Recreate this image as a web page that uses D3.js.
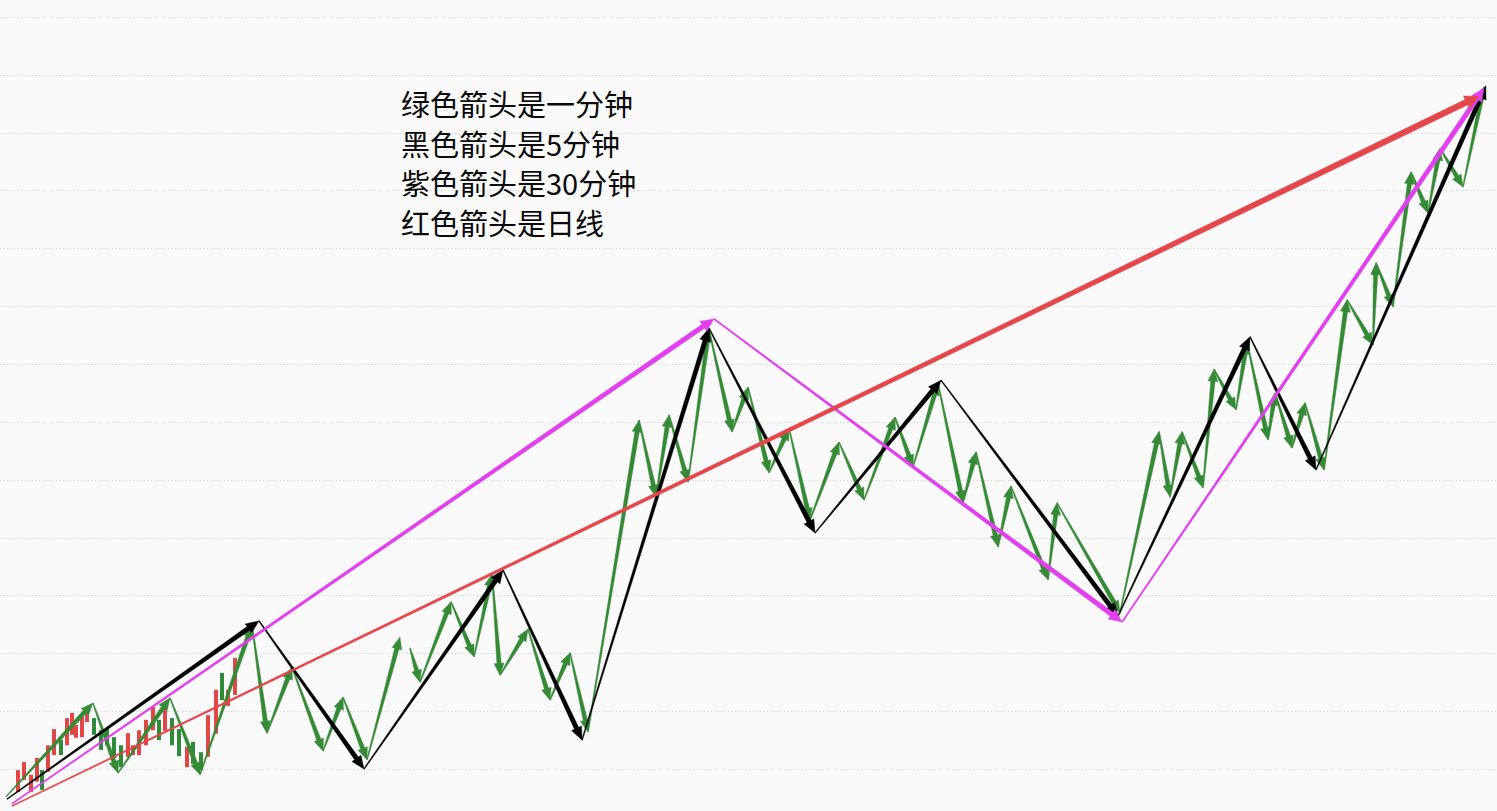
<!DOCTYPE html>
<html>
<head>
<meta charset="utf-8">
<script src="https://cdn.jsdelivr.net/npm/d3@7"></script>
<style>
  html, body { margin: 0; padding: 0; background: #fafafa; overflow: hidden; }
  svg { display: block; }
</style>
</head>
<body>
<svg id="chart" width="1497" height="811"></svg>
<script>
// ---------------- DATA (time index, price) ----------------
const gridValues = d3.range(0, 131, 10);

const legendLines = ["绿色箭头是一分钟", "黑色箭头是5分钟", "紫色箭头是30分钟", "红色箭头是日线"];

// candles: [time, open, close]
const candleTime  = [18,24,31,37,42,48,54,61,67,72,76,82,87,94,101,107,114,121,128,133,139,146,153,159,165,172,179,187,193,201,208,216,222,228,235];
const candleOpen  = [-4.0,-1.9,-4.0,-2.2,-0.2,-0.5,2.4,5.0,4.1,5.9,5.4,5.5,8.1,8.8,6.7,7.1,5.5,4.1,2.1,2.4,2.4,4.1,6.7,8.5,6.6,8.8,6.9,0.3,4.7,2.9,2.1,6.1,16.6,10.9,12.8];
const candleClose = [-0.2,1.2,-1.0,1.9,-3.6,4.1,6.9,2.4,8.8,9.7,7.6,9.0,9.9,5.9,3.3,4.1,1.9,0.3,6.2,4.1,6.7,8.5,10.7,5.0,10.4,4.1,2.2,3.8,0.9,-0.2,9.3,13.7,11.9,13.7,19.2];

// 1-minute pivots (green)
const greenPivotsA = [[6,-4.8],[93,11.4],[118,-0.7],[170,12.3],[200,-1.0],[252,24.9],[267,6.2],[292,17.6],[323,3.1],[343,12.4],[367,1.6],[400,22.8]];
const greenPivotsB = [[410,20.9],[420,15.0],[451,28.9],[474,19.4],[492,33.7],[500,16.2],[528,24.2],[550,11.9],[570,20.1],[588,6.4],[639,60.3],[656,47.0],[669,61.2],[688,49.6],[709,75.9],[732,58.3],[748,66.0],[769,51.2],[789,58.9],[810,43.0],[839,56.5],[864,46.5],[895,60.8],[913,52.2],[938,66.7],[963,46.0],[976,54.8],[998,38.4],[1011,48.9],[1048,32.7],[1057,46.0],[1120,27.0],[1159,58.3],[1170,47.0],[1182,58.3],[1203,48.6],[1214,69.1],[1236,62.1],[1247,73.8],[1268,56.9],[1275,65.0],[1292,55.5],[1305,63.3],[1324,51.7],[1347,81.1],[1373,73.3],[1376,87.5],[1393,79.9],[1411,103.2],[1428,96.1],[1440,107.3],[1463,100.6],[1484,117.9]];

// 5-minute pivots (black)
const blackPivots = [[7,-5.2],[259,25.6],[364,0.0],[503,34.4],[582,5.0],[709,76.2],[815,40.8],[941,67.2],[1118,26.4],[1250,74.7],[1316,51.7],[1486,118.1]];

// 30-minute pivots (magenta)
const magentaPivots = [[12,-6.0],[714,77.8],[1122,25.4],[1484,117.7]];

// daily pivots (red)
const redPivots = [[12,-6.4],[1479,116.3]];

// ---------------- CHART ----------------
const W = 1497, H = 811;
const svg = d3.select("#chart");
const x = d3.scaleLinear().domain([0, 1497]).range([0, W]);
const y = d3.scaleLinear().domain([-7.26, 132.92]).range([H, 0]);

svg.append("rect").attr("width", W).attr("height", H).attr("fill", "#fafafa");

// grid
svg.append("g").selectAll("line").data(gridValues).join("line")
  .attr("x1", 0).attr("x2", W)
  .attr("y1", d => Math.round(y(d)) + 0.5).attr("y2", d => Math.round(y(d)) + 0.5)
  .attr("stroke", "#d9d9d9").attr("stroke-width", 1).attr("stroke-dasharray", "1.5,2");

// candles
const candles = candleTime.map((t, i) => ({t, o: candleOpen[i], c: candleClose[i]}));
svg.append("g").selectAll("rect").data(candles).join("rect")
  .attr("x", d => x(d.t) - 2)
  .attr("width", 4)
  .attr("y", d => y(Math.max(d.o, d.c)))
  .attr("height", d => Math.abs(y(d.o) - y(d.c)))
  .attr("fill", d => d.c >= d.o ? "#e04848" : "#2f8a3a");

// tapered arrow polygon
function arrowPath(p0, p1, w0, w1, hw, hl) {
  const dx = p1[0] - p0[0], dy = p1[1] - p0[1];
  const len = Math.hypot(dx, dy);
  const ux = dx / len, uy = dy / len;
  const nx = -uy, ny = ux;
  let L = hl, HW = hw;
  if (len < hl * 2) { const s = len / (hl * 2); L = hl * s; HW = Math.max(hw * s, w1 + 2); }
  const bx = p1[0] - ux * L, by = p1[1] - uy * L;
  const pts = [
    [p0[0] + nx * w0 / 2, p0[1] + ny * w0 / 2],
    [bx + nx * w1 / 2, by + ny * w1 / 2],
    [bx + nx * HW / 2, by + ny * HW / 2],
    [p1[0], p1[1]],
    [bx - nx * HW / 2, by - ny * HW / 2],
    [bx - nx * w1 / 2, by - ny * w1 / 2],
    [p0[0] - nx * w0 / 2, p0[1] - ny * w0 / 2]
  ];
  return "M" + pts.map(p => p[0].toFixed(2) + "," + p[1].toFixed(2)).join("L") + "Z";
}

function drawArrows(pivots, color, w0, w1, hw, hl) {
  const segs = d3.pairs(pivots).map(([a, b]) => [[x(a[0]), y(a[1])], [x(b[0]), y(b[1])]]);
  svg.append("g").selectAll("path").data(segs).join("path")
    .attr("d", s => arrowPath(s[0], s[1], w0, w1, hw, hl))
    .attr("fill", color).attr("stroke", color).attr("stroke-width", 0.4)
    .attr("stroke-linejoin", "miter");
}

drawArrows(greenPivotsA, "#358a35", 1, 4.4, 10, 12);
drawArrows(greenPivotsB, "#358a35", 1, 4.4, 10, 12);
drawArrows(blackPivots, "#000000", 1, 4.6, 11, 13);
drawArrows(magentaPivots, "#e040ee", 1.3, 4.8, 12, 13);
drawArrows(redPivots, "#e4474a", 1.2, 6, 14, 14);

// legend text
svg.append("g").selectAll("text").data(legendLines).join("text")
  .attr("x", 401)
  .attr("y", (d, i) => 116 + i * 39.5)
  .attr("font-family", "'Noto Sans CJK SC', 'Noto Sans', sans-serif")
  .attr("font-size", 29)
  .attr("fill", "#0a0a0a")
  .text(d => d);
</script>
</body>
</html>
